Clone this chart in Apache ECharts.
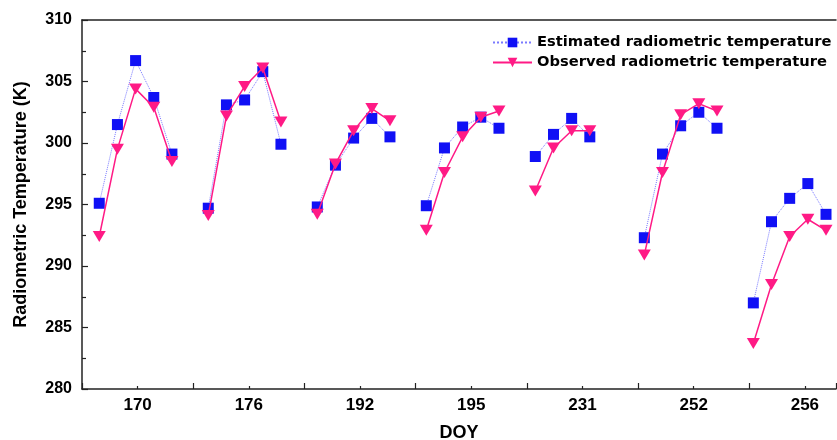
<!DOCTYPE html>
<html>
<head>
<meta charset="utf-8">
<script src="https://cdn.jsdelivr.net/npm/echarts@6/dist/echarts.min.js"></script>
<style>
html,body{margin:0;padding:0;background:#fff;}
#chart{width:837px;height:440px;}
</style>
</head>
<body>
<div id="chart"></div>
<script>
// DOY groups shown on the x axis
var doyLabels = ['170', '176', '192', '195', '231', '252', '256'];
var yTicks = [280, 285, 290, 295, 300, 305, 310];

// Estimated radiometric temperature (K), one array per day
var est170 = [295.1, 301.5, 306.7, 303.7, 299.1];
var est176 = [294.7, 303.1, 303.5, 305.8, 299.9];
var est192 = [294.8, 298.2, 300.4, 302.0, 300.5];
var est195 = [294.9, 299.6, 301.3, 302.1, 301.2];
var est231 = [298.9, 300.7, 302.0, 300.5];
var est252 = [292.3, 299.1, 301.4, 302.5, 301.2];
var est256 = [287.0, 293.6, 295.5, 296.7, 294.2];

// Observed radiometric temperature (K)
var obs170 = [292.4, 299.5, 304.4, 302.9, 298.5];
var obs176 = [294.1, 302.2, 304.6, 306.1, 301.7];
var obs192 = [294.2, 298.3, 301.0, 302.8, 301.8];
var obs195 = [292.9, 297.6, 300.5, 302.1, 302.6];
var obs231 = [296.1, 299.6, 301.0, 301.0];
var obs252 = [290.9, 297.6, 302.3, 303.2, 302.6];
var obs256 = [283.7, 288.5, 292.4, 293.8, 292.9];

var estGroups = [est170, est176, est192, est195, est231, est252, est256];
var obsGroups = [obs170, obs176, obs192, obs195, obs231, obs252, obs256];

var FONT = '"Liberation Sans", Arial, sans-serif';

// each day takes 6 slots on the data axis, gap ('-') breaks the line
function buildData(groups){
    var arr = [];
    for (var g = 0; g < groups.length; g++) {
        for (var j = 0; j < groups[g].length; j++) {
            arr.push([g * 6 + j, groups[g][j]]);
        }
        arr.push([g * 6 + 5, '-']);
    }
    return arr;
}

var chart = echarts.init(document.getElementById('chart'), null, {renderer: 'canvas'});
var option = {
    backgroundColor: '#fff',
    animation: false,
    grid: {left: 82, right: 1, top: 20, bottom: 51, containLabel: false, outerBoundsMode: 'none'},
    legend: {
        orient: 'vertical',
        left: 487,
        top: 30,
        itemWidth: 39,
        itemHeight: 12,
        itemGap: 5,
        textStyle: {fontFamily: '"DejaVu Sans", sans-serif', fontWeight: 'bold', fontSize: 14.7, color: '#000'},
        data: ['Estimated radiometric temperature', 'Observed radiometric temperature']
    },
    xAxis: [
        {
            // data axis, drawn as the top frame line
            type: 'value',
            position: 'top',
            min: -0.95,
            max: 40.55,
            axisLine: {show: true, onZero: false, lineStyle: {color: '#222', width: 1.5}},
            axisTick: {show: false},
            axisLabel: {show: false},
            splitLine: {show: false}
        },
        {
            // major / minor ticks at the bottom
            type: 'value',
            position: 'bottom',
            min: 0,
            max: 6.78,
            interval: 1,
            axisLine: {show: true, onZero: false, lineStyle: {color: '#222', width: 1.5}},
            axisTick: {show: true, inside: true, length: 6, lineStyle: {color: '#222', width: 1.2}},
            minorTick: {show: true, splitNumber: 2, length: 3, lineStyle: {color: '#222', width: 1.2}},
            axisLabel: {show: false},
            splitLine: {show: false},
            name: 'DOY',
            nameLocation: 'middle',
            nameGap: 35,
            nameTextStyle: {fontFamily: FONT, fontWeight: 'bold', fontSize: 18, color: '#000'}
        },
        {
            // day labels, centred in each group
            type: 'value',
            position: 'bottom',
            min: 0,
            max: 6.78,
            interval: 0.5,
            axisLine: {show: false},
            axisTick: {show: false},
            splitLine: {show: false},
            axisLabel: {
                show: true,
                margin: 8,
                showMinLabel: false,
                showMaxLabel: false,
                fontFamily: FONT, fontWeight: 'bold', fontSize: 17, color: '#000',
                formatter: function(v){
                    var f = v - Math.floor(v);
                    if (Math.abs(f - 0.5) < 1e-6) {
                        return doyLabels[Math.floor(v)] || '';
                    }
                    return '';
                }
            }
        }
    ],
    yAxis: {
        type: 'value',
        min: yTicks[0],
        max: yTicks[yTicks.length - 1],
        interval: 5,
        axisLine: {show: true, onZero: false, lineStyle: {color: '#222', width: 1.5}},
        axisTick: {show: true, inside: true, length: 6, lineStyle: {color: '#222', width: 1.2}},
        minorTick: {show: true, splitNumber: 2, length: 4, lineStyle: {color: '#222', width: 1.2}},
        splitLine: {show: false},
        axisLabel: {margin: 10, fontFamily: FONT, fontWeight: 'bold', fontSize: 16, color: '#000'},
        name: 'Radiometric Temperature (K)',
        nameLocation: 'middle',
        nameGap: 52,
        nameTextStyle: {fontFamily: FONT, fontWeight: 'bold', fontSize: 18, color: '#000'}
    },
    series: [
        {
            name: 'Estimated radiometric temperature',
            type: 'line',
            xAxisIndex: 0,
            data: buildData(estGroups),
            connectNulls: false,
            symbol: 'rect',
            symbolSize: 11,
            itemStyle: {color: '#1010f5'},
            lineStyle: {color: '#7a7aff', width: 1, type: 'dotted'},
            z: 2
        },
        {
            name: 'Observed radiometric temperature',
            type: 'line',
            xAxisIndex: 0,
            data: buildData(obsGroups),
            connectNulls: false,
            symbol: 'triangle',
            symbolRotate: 180,
            symbolSize: [13, 11],
            itemStyle: {color: '#ff1a85'},
            lineStyle: {color: '#ff1a85', width: 1.5},
            z: 3
        }
    ]
};
chart.setOption(option);
</script>
</body>
</html>
